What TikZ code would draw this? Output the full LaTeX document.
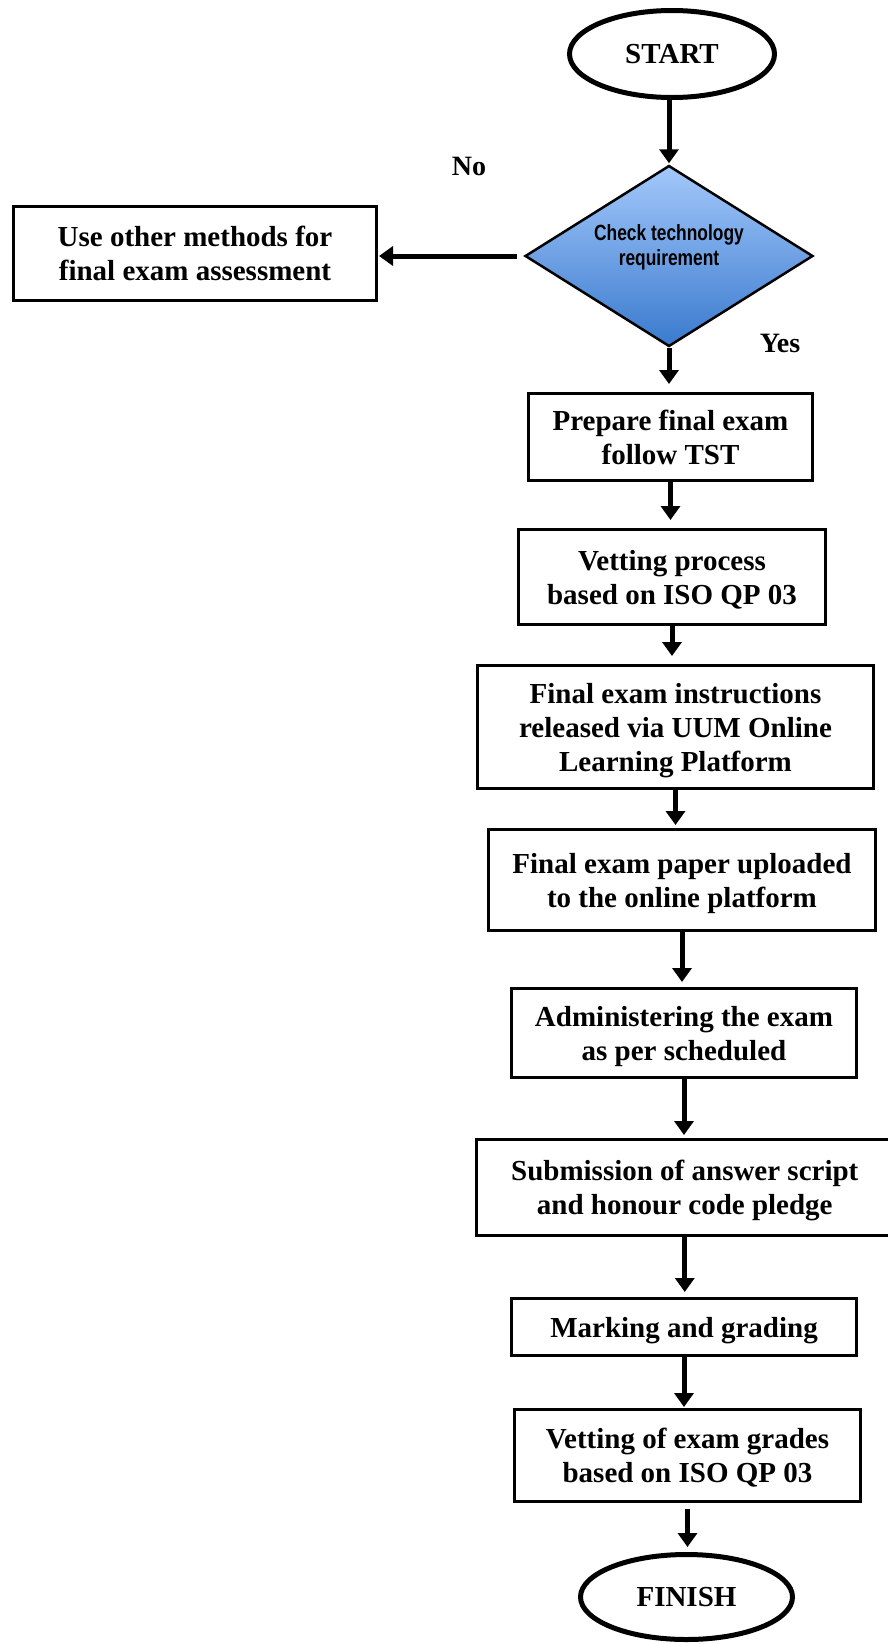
\documentclass[tikz,border=0pt]{standalone}
\usepackage{fontspec}
\setmainfont{Liberation Serif}
\newfontfamily\arialf[FakeStretch=0.79]{Liberation Sans}
\usetikzlibrary{shapes.geometric,arrows.meta}
\definecolor{topblue}{RGB}{163,200,250}
\definecolor{botblue}{RGB}{58,122,206}
\begin{document}
\begin{tikzpicture}[x=1pt,y=-1pt,
  box/.style={draw,line width=3pt,rectangle,inner sep=0pt,align=center,text depth=0pt,font=\fontsize{29}{34}\selectfont\bfseries},
  term/.style={draw,line width=5pt,ellipse,inner sep=0pt,font=\fontsize{29}{35}\selectfont\bfseries},
  arr/.style={line width=5pt,-{Triangle[width=19pt,length=14pt]},shorten >=5pt},
  lbl/.style={font=\fontsize{28}{34}\selectfont\bfseries,inner sep=0pt}]
\useasboundingbox (0,0) rectangle (888,1644);

\node[term,minimum width=205pt,minimum height=87pt] (start) at (672,54) {START};
\node[diamond,aspect=1.9,draw,line width=2.5pt,minimum width=288pt,minimum height=181pt,inner sep=0pt,
      top color=topblue,bottom color=botblue,align=center,text depth=22pt,
      font=\arialf\bfseries\fontsize{22}{25}\selectfont] (d) at (669,256) {Check technology\\requirement};
\node[box,minimum width=363pt,minimum height=94pt] (other) at (195,253.5) {Use other methods for\\final exam assessment};
\node[lbl] (no) at (469,166) {No};
\node[lbl] (yes) at (780,343) {Yes};

\node[box,minimum width=284pt,minimum height=87pt] (prep) at (670.5,437) {Prepare final exam\\follow TST};
\node[box,minimum width=307pt,minimum height=95pt] (vet1) at (672,577) {Vetting process\\based on ISO QP 03};
\node[box,minimum width=396pt,minimum height=123pt] (instr) at (675.5,727) {Final exam instructions\\released via UUM Online\\Learning Platform};
\node[box,minimum width=387pt,minimum height=101pt] (paper) at (682,880) {Final exam paper uploaded\\to the online platform};
\node[box,minimum width=345pt,minimum height=89pt] (admin) at (684,1033) {Administering the exam\\as per scheduled};
\node[box,minimum width=416.5pt,minimum height=96pt] (submit) at (684.75,1187.5) {Submission of answer script\\and honour code pledge};
\node[box,minimum width=345pt,minimum height=57pt] (mark) at (684,1327) {Marking and grading};
\node[box,minimum width=346pt,minimum height=92pt] (vet2) at (687.5,1455.5) {Vetting of exam grades\\based on ISO QP 03};
\node[term,minimum width=212pt,minimum height=85pt] (finish) at (686.5,1597) {FINISH};

\draw[arr,shorten >=1pt] (d.north |- start.south) -- (d.north);
\draw[arr,shorten <=7pt,shorten >=1pt] (d.west) -- (d.west -| other.east);
\draw[arr,shorten >=8pt] (d.south) -- (d.south |- prep.north);
\draw[arr,shorten >=8pt] (prep.south) -- (prep.south |- vet1.north);
\draw[arr,shorten >=8pt] (vet1.south) -- (vet1.south |- instr.north);
\draw[arr,shorten >=3pt] (instr.south) -- (instr.south |- paper.north);
\draw[arr] (paper.south) -- (paper.south |- admin.north);
\draw[arr,shorten >=3pt] (admin.south) -- (admin.south |- submit.north);
\draw[arr] (submit.south) -- (submit.south |- mark.north);
\draw[arr,shorten >=1pt] (mark.south) -- (mark.south |- vet2.north);
\draw[arr,shorten <=6pt] (vet2.south) -- (vet2.south |- finish.north);
\end{tikzpicture}
\end{document}
